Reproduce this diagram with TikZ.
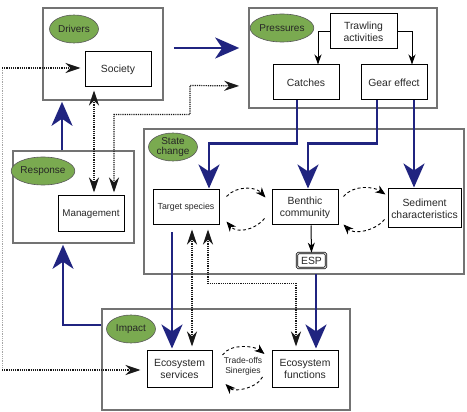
\documentclass[tikz,border=0pt]{standalone}
\usepackage{fontspec}
\setmainfont{Liberation Sans}
\usetikzlibrary{arrows.meta,calc,shapes.geometric}
\definecolor{navy}{RGB}{32,36,128}
\definecolor{egreen}{RGB}{122,170,80}
\definecolor{txt}{RGB}{40,40,40}
\begin{document}
\begin{tikzpicture}[x=1pt,y=-1pt,
  frame/.style={draw=black!55,line width=1.6pt,fill=white,inner sep=0pt},
  box/.style={draw=black,line width=1pt,fill=white,inner sep=1pt,align=center,text=txt,font=\fontsize{10.4}{12}\selectfont},
  lab/.style={ellipse,draw=black!65,fill=egreen,line width=0.6pt,minimum width=49pt,minimum height=28pt,inner sep=0pt,align=center,font=\fontsize{10}{10.5}\selectfont,text=black!85},
  barrow/.style={draw=navy,line width=2.6pt,-{Stealth[length=24pt,width=21pt,inset=7pt]}},
  sarrow/.style={draw=black,line width=1pt,-{Stealth[length=10pt,width=7pt,inset=3pt]}},
  dotline/.style={draw=black!90,line width=1.2pt,densely dotted,{Stealth[length=15pt,width=10pt,inset=5pt]}-{Stealth[length=15pt,width=10pt,inset=5pt]}},
  dotfwd/.style={draw=black!90,line width=1.2pt,densely dotted,-{Stealth[length=15pt,width=10pt,inset=5pt]}},
  dotgray/.style={draw=black!35,line width=0.8pt,densely dotted},
  dasharrow/.style={draw=black,line width=0.9pt,dash pattern=on 3pt off 2.5pt,-{Stealth[length=10pt,width=8pt,inset=3pt]}}
]
\useasboundingbox (0,0) rectangle (467,412);

% frames
\node[frame,minimum width=120pt,minimum height=92pt] (fdrv) at (103,54) {};
\node[frame,minimum width=188pt,minimum height=100pt] (fpres) at (343,58) {};
\node[frame,minimum width=320pt,minimum height=145pt] (fstate) at (304,201.5) {};
\node[frame,minimum width=121pt,minimum height=92pt] (fresp) at (73.5,197) {};
\node[frame,minimum width=248pt,minimum height=101pt] (fimp) at (226,359.5) {};

% labels
\node[lab] (ldrv) at (74,29) {Drivers};
\node[lab] (lpres) at (282,28) {Pressures};
\node[lab] (lstate) at (173,147) {State\\[-1pt]change};
\node[lab] (lresp) at (43,171) {Response};
\node[lab] (limp) at (131,329) {Impact};

% boxes
\node[box,minimum width=66pt,minimum height=35pt] (soc) at (118,69.5) {Society};
\node[box,minimum width=67pt,minimum height=35pt] (trawl) at (363.5,31.5) {Trawling\\activities};
\node[box,minimum width=66pt,minimum height=35pt] (cat) at (306,82.5) {Catches};
\node[box,minimum width=66pt,minimum height=35pt] (gear) at (394,82.5) {Gear effect};
\node[box,minimum width=66pt,minimum height=35pt,font=\fontsize{8.8}{10}\selectfont] (tgt) at (186,207.5) {Target species};
\node[box,minimum width=66pt,minimum height=35pt] (ben) at (305,207.5) {Benthic\\community};
\node[box,minimum width=73pt,minimum height=39pt] (sed) at (424.5,208.5) {Sediment\\characteristics};
\node[box,minimum width=29pt,minimum height=15pt,inner sep=0pt,rounded corners=1.5pt,double,double distance=0.8pt,line width=0.7pt] (esp) at (311.5,260.5) {ESP};
\node[box,minimum width=66pt,minimum height=36pt,font=\fontsize{9.8}{11}\selectfont] (mgmt) at (91,214) {Management};
\node[box,minimum width=65pt,minimum height=36pt] (es) at (179.5,369) {Ecosystem\\services};
\node[box,minimum width=66pt,minimum height=36pt] (ef) at (305,369) {Ecosystem\\functions};
\node[align=center,inner sep=0pt,text=txt,font=\fontsize{8.5}{10}\selectfont] (tos) at (243,366) {Trade-offs\\Sinergies};

% blue arrows
\draw[barrow] ($(fdrv.east)+(10,-6)$) -- ($(fpres.west)+(-9,-10)$);
\draw[barrow] ($(cat.south)+(-9,0)$) -- ++(0,43) -| ($(tgt.north)+(23,-1)$);
\draw[barrow] ($(gear.south)+(-17,0)$) -- ++(0,43) -| ($(ben.north)+(3,-1)$);
\draw[barrow] ($(gear.south)+(20,0)$) -- ($(sed.north)+(-10.5,-1)$);
\draw[barrow] ($(tgt.south)+(-14,7)$) -- ($(es.north)+(-7.5,-2)$);
\draw[barrow] ($(esp.south)+(4.5,6)$) -- ($(ef.north)+(11,-2)$);
\draw[barrow] ($(fresp.north)+(-11.5,0)$) -- ($(fdrv.south)+(-41,1)$);
\draw[barrow] ($(fimp.west)+(0,-34.5)$) -| ($(fresp.south)+(-10.5,1)$);

% black solid arrows
\draw[sarrow] (trawl.west) -| ($(cat.north)+(12,0)$);
\draw[sarrow] (trawl.east) -| ($(gear.north)+(18,0)$);
\draw[sarrow] ($(ben.south)+(6,0)$) -- (esp.north);

% dotted arrows
\draw[dotline,shorten <=3pt,shorten >=3pt] ($(soc.south)+(-24,0)$) -- ($(mgmt.north)+(3,0)$);
\draw[dotline,shorten <=3pt,shorten >=9pt] ($(mgmt.north)+(23,0)$) -- ++(0,-81) -- ++(76,0) -- ++(0,-29) -- ($(fpres.west)+(0,28)$);
\draw[dotline,shorten <=4pt,shorten >=4pt] ($(tgt.south)+(6,0)$) -- ($(es.north)+(12.5,0)$);
\draw[dotline,shorten <=4pt,shorten >=4pt] ($(tgt.south)+(22,0)$) -- ++(0,58) -- ++(88,0) -- ($(ef.north)+(-9,0)$);
\coordinate (lft1) at (2,68);
\coordinate (lft2) at (2,370);
\draw[dotgray] (lft1) -- (lft2);
\draw[dotfwd,shorten >=4pt] (lft1) -- (lft1 -| soc.west);
\draw[dotfwd,shorten >=6pt] (lft2) -- (lft2 -| es.west);

% dashed feedback arcs
\draw[dasharrow] ($(tgt.east)+(7,-11)$) .. controls +(10,-11) and +(-10,-11) .. ($(ben.west)+(-6,-10)$);
\draw[dasharrow] ($(ben.west)+(-7,11)$) .. controls +(-10,12) and +(10,12) .. ($(tgt.east)+(7,14)$);
\draw[dasharrow] ($(ben.east)+(5,-11)$) .. controls +(10,-12) and +(-12,-8) .. ($(sed.west)+(-2,-14)$);
\draw[dasharrow] ($(sed.west)+(-3,11)$) .. controls +(-10,12) and +(10,10) .. ($(ben.east)+(5,17)$);
\draw[dasharrow] ($(es.east)+(10,-14)$) .. controls +(8,-12) and +(-10,-8) .. ($(ef.west)+(-7,-15)$);
\draw[dasharrow] ($(ef.west)+(-9,8)$) .. controls +(-6,12) and +(8,8) .. ($(es.east)+(13,15)$);
\end{tikzpicture}
\end{document}
